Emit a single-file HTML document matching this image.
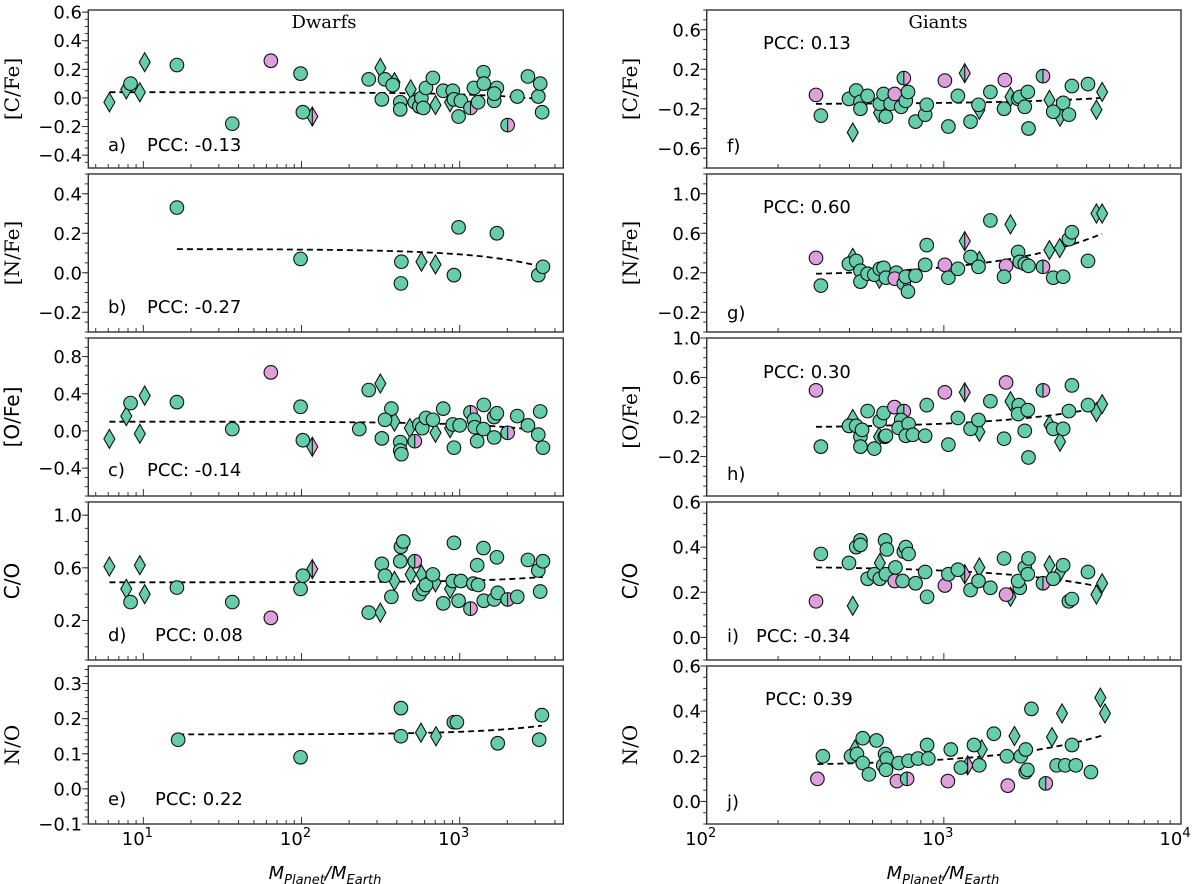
<!DOCTYPE html>
<html><head><meta charset="utf-8"><title>Abundance ratios vs planet mass</title>
<style>
html,body{margin:0;padding:0;background:#fff;}
svg{display:block;}
text{font-family:"DejaVu Sans","Liberation Sans",sans-serif;fill:#000;}
.serif{font-family:"DejaVu Serif","Liberation Serif",serif;}
</style></head>
<body>
<svg id="chart" width="1200" height="884" viewBox="0 0 1200 884" xmlns="http://www.w3.org/2000/svg"></svg>
<script>
// ---- data (mass in M_Earth, abundance value, marker kind) ----
// kinds: c=green circle, p=pink circle, h=half circle, d=green diamond, D=half diamond
const aM=[6.1,7.8,8.3,9.5,10.2,16.3,36.5,64,98.6,102,117,266,315,322,337,387,377,421,421,490,520,556,573,589,612,677,703,787,869,904,920,1017,984,1170,1230,1307,1413,1420,1652,1718,1652,2010,2312,2700,3140,3228,3320];
const aV=[-0.03,0.06,0.10,0.04,0.25,0.23,-0.18,0.26,0.17,-0.10,-0.13,0.13,0.21,-0.01,0.13,0.11,0.09,-0.03,-0.08,0.06,-0.03,-0.06,0.0,-0.07,0.07,0.14,-0.05,0.05,-0.03,0.05,-0.01,-0.02,-0.13,-0.07,0.07,-0.03,0.18,0.10,-0.02,0.07,0.03,-0.19,0.01,0.15,0.01,0.10,-0.10];
const aK=("ddcdd"+"ccpcc"+"Dcdcc"+"dcccd"+"hcccc"+"cdcdc"+"ccchc"+"ccccc"+"chccc"+"cc").split("");
const bM=[16.3,98.6,428,425,573,703,920,984,1718,3140,3360];
const bV=[0.33,0.07,0.056,-0.054,0.056,0.042,-0.012,0.23,0.20,-0.012,0.03];
const bK="ccccddccccc".split("");
const cM=[6.1,7.8,8.3,9.5,10.2,16.3,36.5,64,98.6,102,117,232,266,315,322,370,337,387,421,421,428,484,520,556,580,612,677,703,787,869,920,904,1000,1170,1230,1245,1290,1413,1420,1652,1718,1652,2010,2312,2700,3140,3228,3360];
const cV=[-0.085,0.16,0.30,-0.03,0.38,0.31,0.02,0.63,0.26,-0.10,-0.17,0.02,0.44,0.51,-0.08,0.24,0.12,0.10,-0.12,-0.21,-0.25,0.03,-0.11,0.07,0.03,0.14,0.12,-0.02,0.24,0.03,-0.18,0.07,0.06,0.20,0.12,0.04,-0.11,0.02,0.28,0.15,0.19,-0.07,-0.02,0.16,0.06,-0.04,0.21,-0.18];
const cK=("ddcdd"+"ccpcc"+"Dccdc"+"ccdcc"+"cdhcc"+"ccdcd"+"ccchc"+"ccccc"+"cchcc"+"ccc").split("");
const dM=[6.1,7.8,8.3,9.5,10.2,16.3,36.5,64,98.6,102,117,266,315,322,337,370,387,421,425,440,520,490,573,556,589,612,677,703,787,869,904,920,984,1017,1170,1220,1290,1307,1413,1420,1652,1718,1740,2010,2312,2700,3140,3228,3360];
const dV=[0.61,0.44,0.34,0.62,0.40,0.45,0.34,0.22,0.44,0.54,0.59,0.26,0.26,0.63,0.54,0.38,0.50,0.65,0.76,0.80,0.65,0.55,0.55,0.40,0.44,0.47,0.55,0.49,0.33,0.44,0.50,0.79,0.35,0.50,0.29,0.48,0.62,0.47,0.75,0.35,0.36,0.68,0.41,0.36,0.38,0.66,0.58,0.42,0.65];
const dK=("ddcdd"+"ccpcc"+"Dcdcc"+"cdccc"+"hddcc"+"ccdcd"+"cccch"+"ccccc"+"ccchc"+"cccc").split("");
const eM=[16.6,98.6,425,425,569,708,918,960,1740,3180,3310];
const eV=[0.14,0.09,0.23,0.15,0.16,0.15,0.19,0.19,0.13,0.14,0.21];
const eK="ccccddccccc".split("");
const fM=[289,303,398,413,427,445,445,477,533,537,557,570,596,621,678,661,691,706,760,834,847,1010,1045,1146,1225,1296,1412,1400,1571,1808,1794,1910,2057,2090,2260,2194,2275,2618,2788,2893,3090,3185,3367,3467,4053,4400,4650];
const fV=[-0.06,-0.27,-0.10,-0.44,-0.015,-0.13,-0.20,-0.07,-0.24,-0.15,-0.05,-0.28,-0.15,-0.05,0.11,-0.18,-0.12,-0.03,-0.33,-0.26,-0.16,0.085,-0.38,-0.07,0.16,-0.33,-0.21,-0.16,-0.03,0.09,-0.20,-0.08,-0.10,-0.08,-0.03,-0.18,-0.40,0.13,-0.11,-0.23,-0.28,-0.14,-0.26,0.03,0.05,-0.21,-0.03];
const fK=("pccdc"+"cccdc"+"cccph"+"ccccc"+"cpccD"+"cdccp"+"cdccc"+"cchdc"+"dcccc"+"dd").split("");
const gM=[289,303,398,413,427,445,445,477,509,535,537,557,570,631,621,678,691,706,760,834,847,1010,1045,1146,1225,1296,1412,1400,1571,1910,1830,1794,2057,2090,2194,2275,2618,2788,2893,3080,3185,3367,3467,4053,4400,4650];
const gV=[0.35,0.07,0.29,0.35,0.32,0.22,0.11,0.19,0.18,0.14,0.24,0.25,0.15,0.20,0.14,0.09,0.16,0.01,0.17,0.28,0.48,0.28,0.15,0.24,0.52,0.36,0.32,0.26,0.73,0.69,0.27,0.16,0.41,0.31,0.29,0.27,0.26,0.43,0.15,0.45,0.16,0.54,0.61,0.32,0.80,0.80];
const gK=("pccdc"+"ccccd"+"ccccp"+"hcccc"+"cpccD"+"cdccd"+"pcccc"+"chdcd"+"ccccd"+"d").split("");
const hM=[289,303,398,413,427,445,445,452,477,509,537,557,533,563,570,619,678,661,645,710,691,740,834,847,1010,1045,1146,1225,1296,1412,1400,1571,1830,1794,1910,2070,2057,2194,2260,2275,2618,2788,2893,3090,3185,3367,3467,4053,4400,4650];
const hV=[0.47,-0.10,0.11,0.18,0.11,0.0,-0.10,0.07,0.26,-0.12,0.16,0.24,0.0,0.0,0.01,0.30,0.26,0.17,0.09,0.13,0.01,0.02,0.01,0.32,0.45,-0.08,0.19,0.45,0.08,0.05,0.17,0.36,0.55,-0.02,0.36,0.32,0.23,0.06,0.27,-0.21,0.47,0.12,0.08,-0.05,0.08,0.26,0.52,0.32,0.25,0.33];
const hK=("pccdc"+"ccccc"+"ccdcc"+"phccc"+"ccccp"+"ccDcd"+"ccpcd"+"ccccc"+"hdcdc"+"cccdd").split("");
const iM=[289,303,398,413,427,445,445,477,537,509,537,570,565,575,625,621,678,691,710,670,760,834,850,1010,1045,1146,1225,1296,1412,1400,1571,1794,1830,1910,2090,2057,2194,2260,2275,2618,2788,2893,3090,3185,3367,3467,4053,4400,4650];
const iV=[0.16,0.37,0.33,0.14,0.40,0.43,0.41,0.26,0.33,0.28,0.26,0.28,0.43,0.39,0.31,0.25,0.38,0.40,0.37,0.25,0.24,0.29,0.18,0.23,0.28,0.30,0.28,0.21,0.31,0.25,0.22,0.35,0.19,0.18,0.22,0.25,0.31,0.28,0.35,0.24,0.32,0.26,0.29,0.32,0.16,0.17,0.29,0.19,0.24];
const iK=("pccdc"+"cccdc"+"ccccc"+"phccc"+"cccpc"+"cDcdc"+"ccpdc"+"cccch"+"dcdcc"+"ccdd").split("");
const jM=[293,309,406,422,430,455,455,483,520,555,565,575,570,634,645,700,710,778,850,860,1040,1070,1180,1340,1260,1410,1445,1625,1985,1845,1860,2110,2215,2250,2215,2340,2690,2857,3150,2990,3250,3600,3470,4170,4570,4780];
const jV=[0.10,0.20,0.20,0.23,0.21,0.28,0.17,0.12,0.27,0.16,0.21,0.19,0.14,0.09,0.17,0.10,0.18,0.19,0.25,0.19,0.09,0.23,0.15,0.25,0.16,0.16,0.23,0.30,0.29,0.20,0.07,0.20,0.13,0.14,0.23,0.41,0.08,0.285,0.39,0.16,0.16,0.16,0.25,0.13,0.46,0.39];
const jK=("pccdc"+"ccccc"+"cccpc"+"hcccc"+"pcccD"+"cdcdc"+"pcccc"+"chddc"+"ccccd"+"d").split("");
// trend-line coefficients (value = intercept + slope * mass)
const fitIntercept=[0.04,0.12,0.10,0.49,0.155,-0.154,0.163,0.087,0.316,0.157];
const fitSlope=[-1.5e-5,-2.7e-5,-3.0e-5,1.2e-5,7.6e-6,1.36e-5,9.3e-5,4.6e-5,-2.0e-5,2.9e-5];
const pccText=["PCC: -0.13","PCC: -0.27","PCC: -0.14","PCC: 0.08","PCC: 0.22","PCC: 0.13","PCC: 0.60","PCC: 0.30","PCC: -0.34","PCC: 0.39"];
const yTicksA=[-0.4,-0.2,0,0.2,0.4,0.6], yTicksB=[-0.2,0,0.2,0.4], yTicksC=[-0.4,0,0.4,0.8], yTicksD=[0.2,0.6,1.0], yTicksE=[-0.1,0,0.1,0.2,0.3];
const yTicksF=[-0.6,-0.2,0.2,0.6], yTicksG=[-0.2,0.2,0.6,1.0], yTicksH=[-0.2,0.2,0.6,1.0], yTicksI=[0,0.2,0.4,0.6], yTicksJ=[0,0.2,0.4,0.6];

// ---- layout ----
const GREEN="#66cdaa", PINK="#dda0dd";
const TOPS=[10,174,338,502,666], PH=158;
const COLS=[{x0:88.3,x1:563.3,l0:0.652,l1:3.655,dec:[1,2,3],tickLabX:82,ylabX:13,letterX:108},
            {x0:706.7,x1:1181,l0:2,l1:4,dec:[2,3,4],tickLabX:701,ylabX:631,letterX:727}];
const panels=[
 {id:"a",col:0,row:0,M:aM,V:aV,K:aK,ylim:[-0.49,0.615],ticks:yTicksA,minor:0.05,ylab:"[C/Fe]",serif:true,letY:145,pccY:145,pccX:147},
 {id:"b",col:0,row:1,M:bM,V:bV,K:bK,ylim:[-0.3,0.5],ticks:yTicksB,minor:0.05,ylab:"[N/Fe]",serif:true,letY:307,pccY:307,pccX:147},
 {id:"c",col:0,row:2,M:cM,V:cV,K:cK,ylim:[-0.7,1.0],ticks:yTicksC,minor:0.1,ylab:"[O/Fe]",serif:false,letY:470,pccY:470,pccX:147},
 {id:"d",col:0,row:3,M:dM,V:dV,K:dK,ylim:[-0.1,1.1],ticks:yTicksD,minor:0.1,ylab:"C/O",serif:false,letY:635,pccY:635,pccX:155},
 {id:"e",col:0,row:4,M:eM,V:eV,K:eK,ylim:[-0.1,0.35],ticks:yTicksE,minor:0.02,ylab:"N/O",serif:true,letY:799,pccY:799,pccX:155},
 {id:"f",col:1,row:0,M:fM,V:fV,K:fK,ylim:[-0.8,0.8],ticks:yTicksF,minor:0.1,ylab:"[C/Fe]",serif:true,letY:146,pccY:43,pccX:763},
 {id:"g",col:1,row:1,M:gM,V:gV,K:gK,ylim:[-0.4,1.2],ticks:yTicksG,minor:0.1,ylab:"[N/Fe]",serif:true,letY:313,pccY:207,pccX:763},
 {id:"h",col:1,row:2,M:hM,V:hV,K:hK,ylim:[-0.6,1.0],ticks:yTicksH,minor:0.1,ylab:"[O/Fe]",serif:true,letY:474,pccY:372,pccX:763},
 {id:"i",col:1,row:3,M:iM,V:iV,K:iK,ylim:[-0.1,0.6],ticks:yTicksI,minor:0.05,ylab:"C/O",serif:false,letY:636,pccY:636,pccX:756},
 {id:"j",col:1,row:4,M:jM,V:jV,K:jK,ylim:[-0.1,0.6],ticks:yTicksJ,minor:0.05,ylab:"N/O",serif:true,letY:802,pccY:699,pccX:765}
];

const NS="http://www.w3.org/2000/svg";
const svg=document.getElementById("chart");
function mk(tag,attrs,parent){const e=document.createElementNS(NS,tag);for(const k in attrs)e.setAttribute(k,attrs[k]);parent.appendChild(e);return e;}
function fmt(v){const s=Math.abs(v).toFixed(1);return (v< -1e-9?"\u2212":"")+s;}

panels.forEach((p,pi)=>{
  const C=COLS[p.col];
  const top=TOPS[p.row], bot=top+PH;
  const xs=m=>C.x0+(Math.log10(m)-C.l0)/(C.l1-C.l0)*(C.x1-C.x0);
  const ys=v=>bot-(v-p.ylim[0])/(p.ylim[1]-p.ylim[0])*PH;
  const g=mk("g",{},svg);
  
  
  const frame=mk("rect",{x:C.x0,y:top,width:C.x1-C.x0,height:PH,fill:"#fff",stroke:"#333","stroke-width":1.4},g);
  
  
  const yt=mk("g",{stroke:"#333","stroke-width":1},g);
  
  
  const n0=Math.ceil((p.ylim[0]-1e-9)/p.minor), n1=Math.floor((p.ylim[1]+1e-9)/p.minor);
  for(let n=n0;n<=n1;n++){const y=ys(n*p.minor);mk("line",{x1:C.x0-3.5,x2:C.x0,y1:y,y2:y},yt);}
  p.ticks.forEach(v=>{
    const y=ys(v);
    mk("line",{x1:C.x0-6.5,x2:C.x0,y1:y,y2:y},yt);
    const t=mk("text",{x:C.tickLabX,y:y+6.5,"text-anchor":"end","font-size":18,stroke:"none"},g);
    t.textContent=fmt(v);
    
    
  });
  const xt=mk("g",{stroke:"#333","stroke-width":1},g);
  
  
  for(let d=Math.floor(C.l0);d<=Math.ceil(C.l1);d++){
    for(let k=1;k<10;k++){
      const lv=d+Math.log10(k);
      if(lv<C.l0-1e-6||lv>C.l1+1e-6)continue;
      const x=xs(Math.pow(10,lv));
      const len=k===1?7:4;
      mk("line",{x1:x,x2:x,y1:bot,y2:bot-len},xt);
    }
  }
  if(p.row===4){
    C.dec.forEach(d=>{
      const x=xs(Math.pow(10,d));
      const t=mk("text",{x:x-6,y:845,"text-anchor":"middle","font-size":18},g);
      t.textContent="10";
      const s=mk("tspan",{dy:-8,"font-size":13},t);
      s.textContent=String(d);
      
      
    });
  }
  const yl=mk("text",{x:C.ylabX,y:(top+bot)/2,"text-anchor":"middle","font-size":20,transform:"rotate(-90 "+(C.ylabX)+" "+((top+bot)/2)+")",dy:6},g);
  if(p.serif)yl.setAttribute("class","serif");
  yl.textContent=p.ylab;
  
  
  const lo=Math.min(...p.M), hi=Math.max(...p.M);
  let dstr="";
  for(let s=0;s<=60;s++){
    const m=Math.pow(10,Math.log10(lo)+(Math.log10(hi)-Math.log10(lo))*s/60);
    const v=fitIntercept[pi]+fitSlope[pi]*m;
    dstr+=(s?"L":"M")+xs(m).toFixed(1)+","+ys(v).toFixed(1);
  }
  const fl=mk("path",{d:dstr,fill:"none",stroke:"#000","stroke-width":1.8,"stroke-dasharray":"6,4"},g);
  
  
  const idx=[...p.M.keys()].filter(i=>p.M[i]!==undefined&&p.V[i]!==undefined);
  const order=idx.sort((a,b)=>{const da=(p.K[a]==="d"||p.K[a]==="D")?0:1, db=(p.K[b]==="d"||p.K[b]==="D")?0:1;return da-db||a-b;});
  const pts=mk("g",{stroke:"#111","stroke-width":1.1},g);
  
  
  order.forEach(i=>{
    const k=p.K[i]||"c", x=xs(p.M[i]), y=ys(p.V[i]);
    const r=6.8, dw=5.5, dh=9.5;
    let el;
    if(k==="c"||k==="p"){
      el=mk("circle",{cx:x,cy:y,r:r,fill:k==="c"?GREEN:PINK},pts);
    }else if(k==="h"){
      el=mk("g",{},pts);
      mk("path",{d:`M${x},${y-r}A${r},${r} 0 0 0 ${x},${y+r}Z`,fill:GREEN,stroke:"none"},el);
      mk("path",{d:`M${x},${y-r}A${r},${r} 0 0 1 ${x},${y+r}Z`,fill:PINK,stroke:"none"},el);
      mk("circle",{cx:x,cy:y,r:r,fill:"none"},el);
      mk("line",{x1:x,x2:x,y1:y-r,y2:y+r},el);
    }else if(k==="d"){
      el=mk("path",{d:`M${x},${y-dh}L${x+dw},${y}L${x},${y+dh}L${x-dw},${y}Z`,fill:GREEN},pts);
    }else{
      el=mk("g",{},pts);
      mk("path",{d:`M${x},${y-dh}L${x-dw},${y}L${x},${y+dh}Z`,fill:GREEN,stroke:"none"},el);
      mk("path",{d:`M${x},${y-dh}L${x+dw},${y}L${x},${y+dh}Z`,fill:PINK,stroke:"none"},el);
      mk("path",{d:`M${x},${y-dh}L${x+dw},${y}L${x},${y+dh}L${x-dw},${y}Z`,fill:"none"},el);
      mk("line",{x1:x,x2:x,y1:y-dh,y2:y+dh},el);
    }
    
    
  });
  const lt=mk("text",{x:C.letterX,y:p.letY+6,"font-size":18},g);
  lt.textContent=p.id+")";
  
  
  const pc=mk("text",{x:p.pccX,y:p.pccY+6,"font-size":18},g);
  pc.textContent=pccText[pi];
  
  
});

const t1=mk("text",{x:324,y:28,"text-anchor":"middle","font-size":18,class:"serif"},svg);
t1.textContent="Dwarfs";


const t2=mk("text",{x:938,y:28,"text-anchor":"middle","font-size":18,class:"serif"},svg);
t2.textContent="Giants";


[[325,"x-axis-title-dwarfs"],[943,"x-axis-title-giants"]].forEach(([cx,nm])=>{
  const t=mk("text",{x:cx,y:879,"text-anchor":"middle","font-size":18,"font-style":"italic"},svg);
  const a=mk("tspan",{},t);a.textContent="M";
  const b=mk("tspan",{dy:5,"font-size":13},t);b.textContent="Planet";
  const c=mk("tspan",{dy:-5},t);c.textContent="/M";
  const d=mk("tspan",{dy:5,"font-size":13},t);d.textContent="Earth";
  
  
});
</script>
</body></html>
